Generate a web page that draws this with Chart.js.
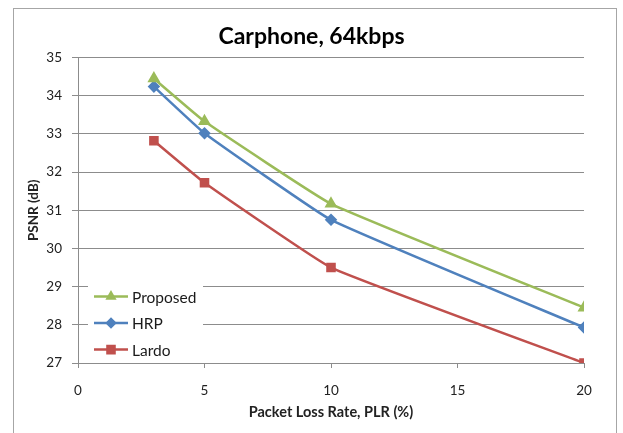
<!DOCTYPE html>
<html>
<head>
<meta charset="utf-8">
<script src="https://cdn.jsdelivr.net/npm/chart.js@4"></script>
<style>
  html, body { margin: 0; padding: 0; background: #fff; }
  #wrap { width: 623px; height: 433px; }
</style>
</head>
<body>
<div id="wrap"><canvas id="psnrChart" width="623" height="433"></canvas></div>
<script>
const plr = [3, 5, 10, 20];
const proposed = [34.45, 33.33, 31.17, 28.45];
const hrp = [34.24, 33.02, 30.75, 27.93];
const lardo = [32.82, 31.72, 29.5, 27.0];
const seriesNames = ["Proposed", "HRP", "Lardo"];
const yTicks = [27, 28, 29, 30, 31, 32, 33, 34, 35];
const xTicks = [0, 5, 10, 15, 20];

const colors = {
  Proposed: "#9BBB59",
  HRP: "#4F81BD",
  Lardo: "#C0504D"
};
const markers = {
  Proposed: { style: "triangle", radius: 5, legendRadius: 4 },
  HRP: { style: "rectRot", radius: 4.5, legendRadius: 4 },
  Lardo: { style: "rect", radius: 5, legendRadius: 5 }
};

const fontFamily = "Lato, 'Open Sans', sans-serif";

function toPoints(values) {
  return values.map((v, i) => ({ x: plr[i], y: v }));
}

const seriesValues = [proposed, hrp, lardo];

const datasets = seriesNames.map((name, i) => ({
  label: name,
  data: toPoints(seriesValues[i]),
  borderColor: colors[name],
  backgroundColor: colors[name],
  borderWidth: 2.5,
  pointStyle: markers[name].style,
  pointRadius: markers[name].radius,
  pointHoverRadius: markers[name].radius,
  tension: 0.1
}));

// outer frame like the spreadsheet chart box
const framePlugin = {
  id: "frame",
  beforeDraw(chart) {
    const ctx = chart.ctx;
    ctx.save();
    ctx.fillStyle = "#fff";
    ctx.fillRect(0, 0, chart.width, chart.height);
    ctx.strokeStyle = "#a6a6a6";
    ctx.lineWidth = 1;
    ctx.strokeRect(13.5, 8.5, 603, 440);
    ctx.restore();
  }
};

// legend sitting inside the plot, bottom left
const innerLegend = {
  id: "innerLegend",
  afterDatasetsDraw(chart) {
    const ctx = chart.ctx;
    const area = chart.chartArea;
    const x0 = area.left + 16;
    const y0 = area.top + 239;
    const rowH = 26.5;
    ctx.save();
    ctx.fillStyle = "#fff";
    ctx.fillRect(area.left + 10, y0 - 13, 115, rowH * 3 - 2);
    chart.data.datasets.forEach((ds, i) => {
      const y = y0 + i * rowH;
      const m = markers[ds.label];
      ctx.strokeStyle = ds.borderColor;
      ctx.lineWidth = 2.5;
      ctx.beginPath();
      ctx.moveTo(x0, y);
      ctx.lineTo(x0 + 34, y);
      ctx.stroke();
      ctx.fillStyle = ds.borderColor;
      Chart.helpers.drawPoint(ctx, {
        pointStyle: m.style,
        radius: m.legendRadius,
        borderWidth: 1,
        rotation: 0
      }, x0 + 17, y);
      ctx.fillStyle = "#1a1a1a";
      ctx.font = "15.5px " + fontFamily;
      ctx.textBaseline = "middle";
      ctx.textAlign = "left";
      ctx.fillText(ds.label, x0 + 38, y + 1);
    });
    ctx.restore();
  }
};

new Chart(document.getElementById("psnrChart"), {
  type: "line",
  data: { datasets },
  plugins: [framePlugin, innerLegend],
  options: {
    responsive: false,
    animation: false,
    layout: { padding: { left: 0, right: 0, top: 0, bottom: 12 } },
    plugins: {
      legend: { display: false },
      tooltip: { enabled: false },
      title: {
        display: true,
        text: "Carphone, 64kbps",
        color: "#000",
        font: { family: fontFamily, size: 23, weight: "bold", lineHeight: 1.2 },
        padding: { top: 23, bottom: 7 }
      }
    },
    scales: {
      x: {
        type: "linear",
        min: 0,
        max: 20,
        afterBuildTicks(scale) {
          scale.ticks = xTicks.map(v => ({ value: v }));
        },
        afterFit(scale) { scale.height = 58; },
        grid: {
          drawOnChartArea: false,
          drawTicks: true,
          tickLength: 5,
          color: "#8c8c8c"
        },
        border: { color: "#8c8c8c", width: 1 },
        ticks: {
          color: "#222",
          padding: 15,
          font: { family: fontFamily, size: 13.5 }
        },
        title: {
          display: true,
          text: "Packet Loss Rate, PLR (%)",
          color: "#222",
          font: { family: fontFamily, size: 14.5, weight: "bold" },
          padding: { top: 2, bottom: 0 }
        }
      },
      y: {
        min: 27,
        max: 35,
        afterBuildTicks(scale) {
          scale.ticks = yTicks.map(v => ({ value: v }));
        },
        afterFit(scale) { scale.width = 78; },
        grid: {
          color: "#8c8c8c",
          tickLength: 6,
          lineWidth: 1
        },
        border: { color: "#8c8c8c", width: 1 },
        ticks: {
          color: "#222",
          padding: 10,
          font: { family: fontFamily, size: 13.5 }
        },
        title: {
          display: true,
          text: "PSNR (dB)",
          color: "#222",
          font: { family: fontFamily, size: 13.5, weight: "bold" },
          padding: { top: 26, bottom: 0 }
        }
      },
      // empty right-hand axis that only keeps room on the right side
      spacer: {
        type: "linear",
        position: "right",
        display: true,
        min: 0,
        max: 1,
        afterFit(scale) { scale.width = 39; },
        grid: { display: false, drawTicks: false },
        border: { display: false },
        ticks: { display: false }
      }
    }
  }
});
</script>
</body>
</html>
